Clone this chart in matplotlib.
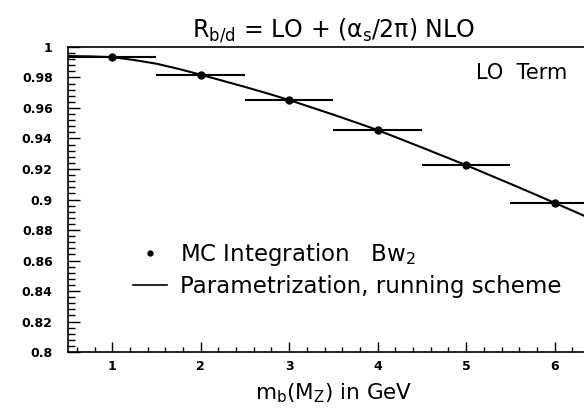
import numpy as np
import matplotlib.pyplot as plt
from matplotlib.lines import Line2D
from matplotlib.ticker import MultipleLocator

###############################################################################
# Data

# MC integration points (bin centres) and half bin widths
mb = [1, 2, 3, 4, 5, 6]
r_mc = [0.9935, 0.9817, 0.9652, 0.9455, 0.9225, 0.8978]
mb_halfwidth = [0.5, 0.5, 0.5, 0.5, 0.5, 0.5]

# Parametrization curve (running scheme)
mb_curve = [0.5, 0.75, 1.0, 1.25, 1.5, 1.75, 2.0, 2.25, 2.5, 2.75, 3.0,
            3.25, 3.5, 3.75, 4.0, 4.25, 4.5, 4.75, 5.0, 5.25, 5.5, 5.75,
            6.0, 6.25, 6.5]
r_curve = [0.9940, 0.9938, 0.9933, 0.9914, 0.9890, 0.9856, 0.9818, 0.9778,
           0.9738, 0.9696, 0.9652, 0.9604, 0.9556, 0.9506, 0.9455, 0.9398,
           0.9341, 0.9283, 0.9225, 0.9164, 0.9103, 0.9041, 0.8978, 0.8915,
           0.8850]

yticks = [0.8, 0.82, 0.84, 0.86, 0.88, 0.9, 0.92, 0.94, 0.96, 0.98, 1.0]
ytick_labels = ['0.8', '0.82', '0.84', '0.86', '0.88', '0.9', '0.92',
                '0.94', '0.96', '0.98', '1']
xticks = [1, 2, 3, 4, 5, 6]

###############################################################################
# Plot

plt.rcParams['font.family'] = ['DejaVu Sans']
plt.rcParams['mathtext.default'] = 'regular'

fig = plt.figure(figsize=(5.84, 4.08), dpi=100)
# the right side of the frame runs off the picture, as in the reference
ax = fig.add_axes([0.1164, 0.137, 0.909, 0.748])

ax.errorbar(mb, r_mc, xerr=mb_halfwidth, fmt='o', color='black',
            markersize=5, elinewidth=1.5, capsize=0, zorder=3)
ax.plot(mb_curve, r_curve, color='black', linewidth=1.5)

ax.set_xlim(0.5, 6.5)
ax.set_ylim(0.8, 1.0)

ax.set_yticks(yticks)
ax.set_yticklabels(ytick_labels, fontweight='bold', fontsize=9)
ax.set_xticks(xticks)
ax.set_xticklabels([str(v) for v in xticks], fontweight='bold', fontsize=9)
ax.xaxis.set_minor_locator(MultipleLocator(0.2))
ax.yaxis.set_minor_locator(MultipleLocator(0.004))
ax.tick_params(axis='x', which='major', length=7)
ax.tick_params(axis='x', which='minor', length=3.5)
ax.tick_params(axis='y', which='major', length=8.5)
ax.tick_params(axis='y', which='minor', length=5)
ax.tick_params(which='both', direction='in', width=1.0, top=False,
               right=False)
ax.tick_params(axis='x', which='both', pad=6)
ax.tick_params(axis='y', which='both', pad=11)
for side in ['left', 'bottom', 'top']:
    ax.spines[side].set_linewidth(1.2)

ax.set_title(r'R$_{b/d}$ = LO + ($\alpha_s$/2$\pi$) NLO', fontsize=17,
             pad=7)
ax.set_xlabel(r'm$_b$(M$_Z$) in GeV', fontsize=15.5, labelpad=6)

ax.text(0.941, 0.916, 'LO  Term', transform=ax.transAxes, fontsize=15,
        ha='right', va='center')

handles = [
    Line2D([], [], color='black', marker='o', linestyle='none',
           markersize=3.5),
    Line2D([], [], color='black', linewidth=1.2),
]
labels = [r'MC Integration   Bw$_2$', 'Parametrization, running scheme']
ax.legend(handles, labels, loc='upper left', bbox_to_anchor=(0.105, 0.395),
          frameon=False, fontsize=16.5, handlelength=1.5, handletextpad=0.55,
          labelspacing=0.3, borderaxespad=0)

fig.savefig('out.png', dpi=100)
